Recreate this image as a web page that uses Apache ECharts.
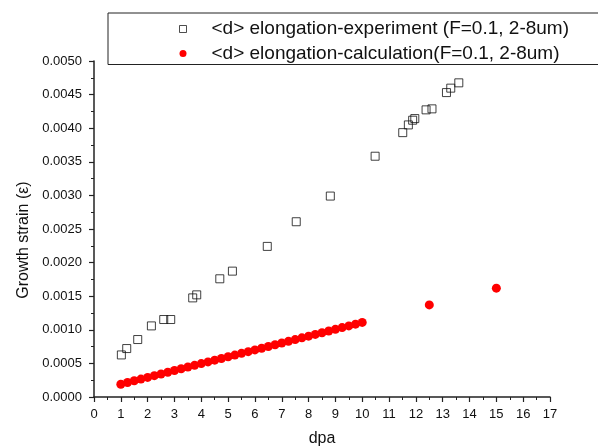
<!DOCTYPE html>
<html lang="en" style="height: 100%">
<head>
<meta charset="utf-8">
<title>Growth strain vs dpa</title>
</head>
<body style="height: 100%; margin: 0; background: #fff">
<div id="container" style="width: 598px; height: 447px"></div>
<script type="text/javascript" src="https://cdn.jsdelivr.net/npm/echarts/dist/echarts.min.js"></script>
<script type="text/javascript">
var dom = document.getElementById('container');
var myChart = echarts.init(dom);

var expName = '<d> elongation-experiment (F=0.1, 2-8um)';
var calcName = '<d> elongation-calculation(F=0.1, 2-8um)';

// experiment points (dpa, strain)
var expDpa = [1.02, 1.22, 1.63, 2.14, 2.60, 2.86, 3.68, 3.83, 4.69, 5.16, 6.46, 7.54,
              8.81, 10.48, 11.51, 11.72, 11.88, 11.96, 12.38, 12.60, 13.14, 13.30, 13.60];
var expStrain = [0.000626, 0.000721, 0.000855, 0.001058, 0.001153, 0.001153, 0.001475, 0.001520,
                 0.001759, 0.001873, 0.002241, 0.002608, 0.002990, 0.003583, 0.003934, 0.004049,
                 0.004119, 0.004143, 0.004273, 0.004288, 0.004530, 0.004596, 0.004675];

// calculation points
var calcDpa = [1, 1.25, 1.5, 1.75, 2, 2.25, 2.5, 2.75, 3, 3.25, 3.5, 3.75, 4, 4.25, 4.5, 4.75,
               5, 5.25, 5.5, 5.75, 6, 6.25, 6.5, 6.75, 7, 7.25, 7.5, 7.75, 8, 8.25, 8.5, 8.75,
               9, 9.25, 9.5, 9.75, 10, 12.5, 15];
var calcStrain = [0.000190, 0.000216, 0.000241, 0.000267, 0.000292, 0.000318, 0.000343, 0.000369,
                  0.000394, 0.000420, 0.000446, 0.000471, 0.000497, 0.000522, 0.000548, 0.000573,
                  0.000599, 0.000624, 0.000650, 0.000675, 0.000701, 0.000726, 0.000752, 0.000777,
                  0.000803, 0.000828, 0.000854, 0.000880, 0.000905, 0.000931, 0.000956, 0.000982,
                  0.001007, 0.001033, 0.001058, 0.001084, 0.001110, 0.001370, 0.001620];

function pairs(xs, ys) {
    return xs.map(function (x, i) { return [x, ys[i]]; });
}

var font = 'Arial, "Liberation Sans", sans-serif';
var ink = '#111';

var option = {
    animation: false,
    backgroundColor: '#fff',
    textStyle: { fontFamily: font },
    legend: {
        left: 108,
        top: 13,
        orient: 'vertical',
        padding: [6, 40, 1, 71],
        itemGap: 4.5,
        itemWidth: 7,
        itemHeight: 7,
        borderColor: '#222',
        borderWidth: 1,
        textStyle: { fontSize: 19, lineHeight: 20, color: ink, fontFamily: font, padding: [0, 0, 0, 20] },
        data: [
            { name: expName, icon: 'rect', itemStyle: { color: '#fff', borderColor: '#222', borderWidth: 1 } },
            { name: calcName, icon: 'circle', itemStyle: { color: '#ff0000' } }
        ]
    },
    grid: {
        left: 94,
        right: 48,
        top: 61,
        bottom: 50,
        outerBoundsMode: 'none'
    },
    xAxis: {
        type: 'value',
        min: 0,
        max: 17,
        interval: 1,
        name: 'dpa',
        nameLocation: 'middle',
        nameGap: 34,
        nameTextStyle: { fontSize: 16, color: ink },
        splitLine: { show: false },
        axisLine: { onZero: false, lineStyle: { color: '#222', width: 1.5 } },
        axisTick: { show: true, length: 5, lineStyle: { color: '#222', width: 1.2 } },
        minorTick: { show: true, splitNumber: 2, length: 3, lineStyle: { color: '#222' } },
        axisLabel: { fontSize: 13, color: ink, margin: 11 }
    },
    yAxis: {
        type: 'value',
        min: 0,
        max: 0.005,
        interval: 0.0005,
        name: 'Growth strain (\u03b5)',
        nameLocation: 'middle',
        nameGap: 61,
        nameTextStyle: { fontSize: 16, color: ink, padding: [0, 22, 0, 0] },
        splitLine: { show: false },
        axisLine: { show: true, lineStyle: { color: '#222', width: 1.5 } },
        axisTick: { show: true, length: 5, lineStyle: { color: '#222', width: 1.2 } },
        minorTick: { show: true, splitNumber: 2, length: 3, lineStyle: { color: '#222' } },
        axisLabel: {
            fontSize: 13,
            color: ink,
            margin: 12,
            formatter: function (v) { return v.toFixed(4); }
        }
    },
    series: [
        {
            name: expName,
            type: 'scatter',
            symbol: 'rect',
            symbolSize: 8,
            itemStyle: { color: 'rgba(255,255,255,0)', borderColor: '#111', borderWidth: 1 },
            data: pairs(expDpa, expStrain)
        },
        {
            name: calcName,
            type: 'scatter',
            symbol: 'circle',
            symbolSize: 9,
            itemStyle: { color: '#ff0000', opacity: 1 },
            data: pairs(calcDpa, calcStrain)
        }
    ]
};

myChart.setOption(option);
window.addEventListener('resize', myChart.resize);
</script>
</body>
</html>
